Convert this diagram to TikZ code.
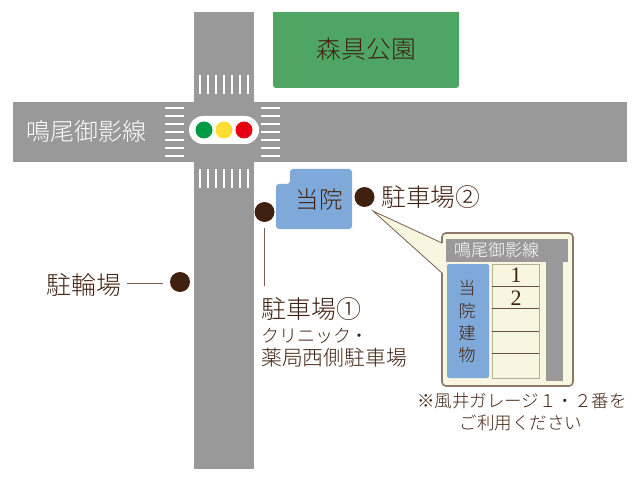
\documentclass[tikz,border=0pt]{standalone}
\usepackage{fontspec}
\setmainfont{Noto Sans CJK JP Light}
\newfontfamily\digitfont{Liberation Serif}
\definecolor{roadgray}{HTML}{999999}
\definecolor{parkgreen}{HTML}{4FA564}
\definecolor{clinicblue}{HTML}{7FA9D9}
\definecolor{darkbrown}{HTML}{40210F}
\definecolor{leaderbrown}{HTML}{7A5F50}
\definecolor{creamfill}{HTML}{F7F6E1}
\definecolor{gridtan}{HTML}{B8AD92}
\definecolor{calloutedge}{HTML}{8C7A68}
\definecolor{lampgreencol}{HTML}{009944}
\definecolor{lampyellowcol}{HTML}{FFDD33}
\definecolor{lampredcol}{HTML}{E60012}
\tikzset{
  txt/.style={text=darkbrown,inner sep=0pt,font=\fontsize{#1}{#1}\selectfont},
  whitetxt/.style={text=white,inner sep=0pt,font=\fontsize{#1}{#1}\selectfont},
  spot/.style={circle,fill=darkbrown,minimum size=20pt,inner sep=0pt},
  lamp/.style={circle,fill=#1,minimum size=17pt,inner sep=0pt},
  leader/.style={draw=leaderbrown,line width=0.8pt},
  stripe/.style={draw=white,line width=1.6pt}
}
\begin{document}
\begin{tikzpicture}[x=1pt,y=-1pt]
  \useasboundingbox (0,0) rectangle (642,481);
  % roads
  \fill[roadgray] (194,12) rectangle (254,469);
  \fill[roadgray] (13,102) rectangle (627,162);
  \foreach \i in {0,...,6} {
    \draw[stripe] (200+8*\i,75) -- (200+8*\i,94);
    \draw[stripe] (200+8*\i,169) -- (200+8*\i,188);
    \draw[stripe] (165,108+8*\i) -- (184,108+8*\i);
    \draw[stripe] (261,108+8*\i) -- (280,108+8*\i);
  }
  \node[whitetxt=24] (roadname) at (86.5,131) {鳴尾御影線};

  % signal
  \fill[white,rounded corners=14pt] (189,116) rectangle (259,144);
  \node[lamp=lampgreencol] (lampgreen) at (204,130) {};
  \node[lamp=lampyellowcol] (lampyellow) at (224,130) {};
  \node[lamp=lampredcol] (lampred) at (244,130) {};

  % park
  \fill[parkgreen,rounded corners=3pt] (273,5) rectangle (459,88);
  \fill[white] (270,0) rectangle (462,12);
  \node[txt=24.8] (park) at (366.5,49) {森具公園};

  % clinic
  \fill[clinicblue,rounded corners=3pt] (276,229) -- (276,184) -- (290,184) -- (290,169) -- (352,169) -- (352,229) -- cycle;
  \node[txt=23.5] (clinic) at (319,200) {当院};

  % parking marks
  \node[spot] (parkone) at (264.5,212) {};
  \node[spot] (parktwo) at (364.5,197) {};
  \node[spot] (bike) at (180,282) {};
  \coordinate (parkonetop) at (264.5,228);
  \coordinate (parkoneend) at (264.5,286);
  \coordinate (bikeleft) at (127,283);
  \coordinate (bikeright) at (163,283);
  \draw[leader] (parkonetop) -- (parkoneend);
  \draw[leader] (bikeleft) -- (bikeright);
  \node[txt=25] (biketxt) at (83.5,285) {駐輪場};
  \node[txt=25,anchor=west] (parkonetxt) at (261,309) {駐車場①};
  \node[txt=18,anchor=west] (parkonesub) at (261,336) {クリニック・};
  \node[txt=20.8,anchor=west] (parkonesubb) at (261,358) {薬局西側駐車場};
  \node[txt=24.8,anchor=west] (parktwotxt) at (381,197.5) {駐車場②};

  % callout
  \coordinate (tip) at (373,211);
  \coordinate (tipup) at (442,243);
  \coordinate (tipdown) at (442,273);
  \draw[fill=creamfill,draw=calloutedge,line width=1.6pt,rounded corners=4pt] (442,233) rectangle (573,386);
  \fill[creamfill] (tipup) -- (tip) -- (tipdown) -- (444,273) -- (444,243) -- cycle;
  \draw[leader] (tipup) -- (tip) -- (tipdown);
  \fill[roadgray] (446,239) rectangle (568,262);
  \fill[roadgray] (546,262) rectangle (563,381);
  \node[whitetxt=17] (calloutroad) at (496.5,250.5) {鳴尾御影線};
  \fill[clinicblue,rounded corners=2pt] (447,264) rectangle (489,378);
  \foreach \y/\t in {288/当,311/院,333/建,355/物}
    \node[txt=17] (c\y) at (467,\y) {\t};
  \draw[draw=gridtan,line width=1pt] (492,264) rectangle (539,378);
  \foreach \y in {286,308.5,331,353.5}
    \draw[draw=darkbrown!80,line width=0.8pt] (492,\y) -- (539,\y);
  \node[txt=22,font=\digitfont\fontsize{22}{22}\selectfont] (slotone) at (516,275.5) {1};
  \node[txt=22,font=\digitfont\fontsize{22}{22}\selectfont] (slottwo) at (516,298) {2};
  \node[txt=17.5] (notea) at (522,401) {※風井ガレージ１・２番を};
  \node[txt=17.5] (noteb) at (521,423) {ご利用ください};
\end{tikzpicture}
\end{document}
